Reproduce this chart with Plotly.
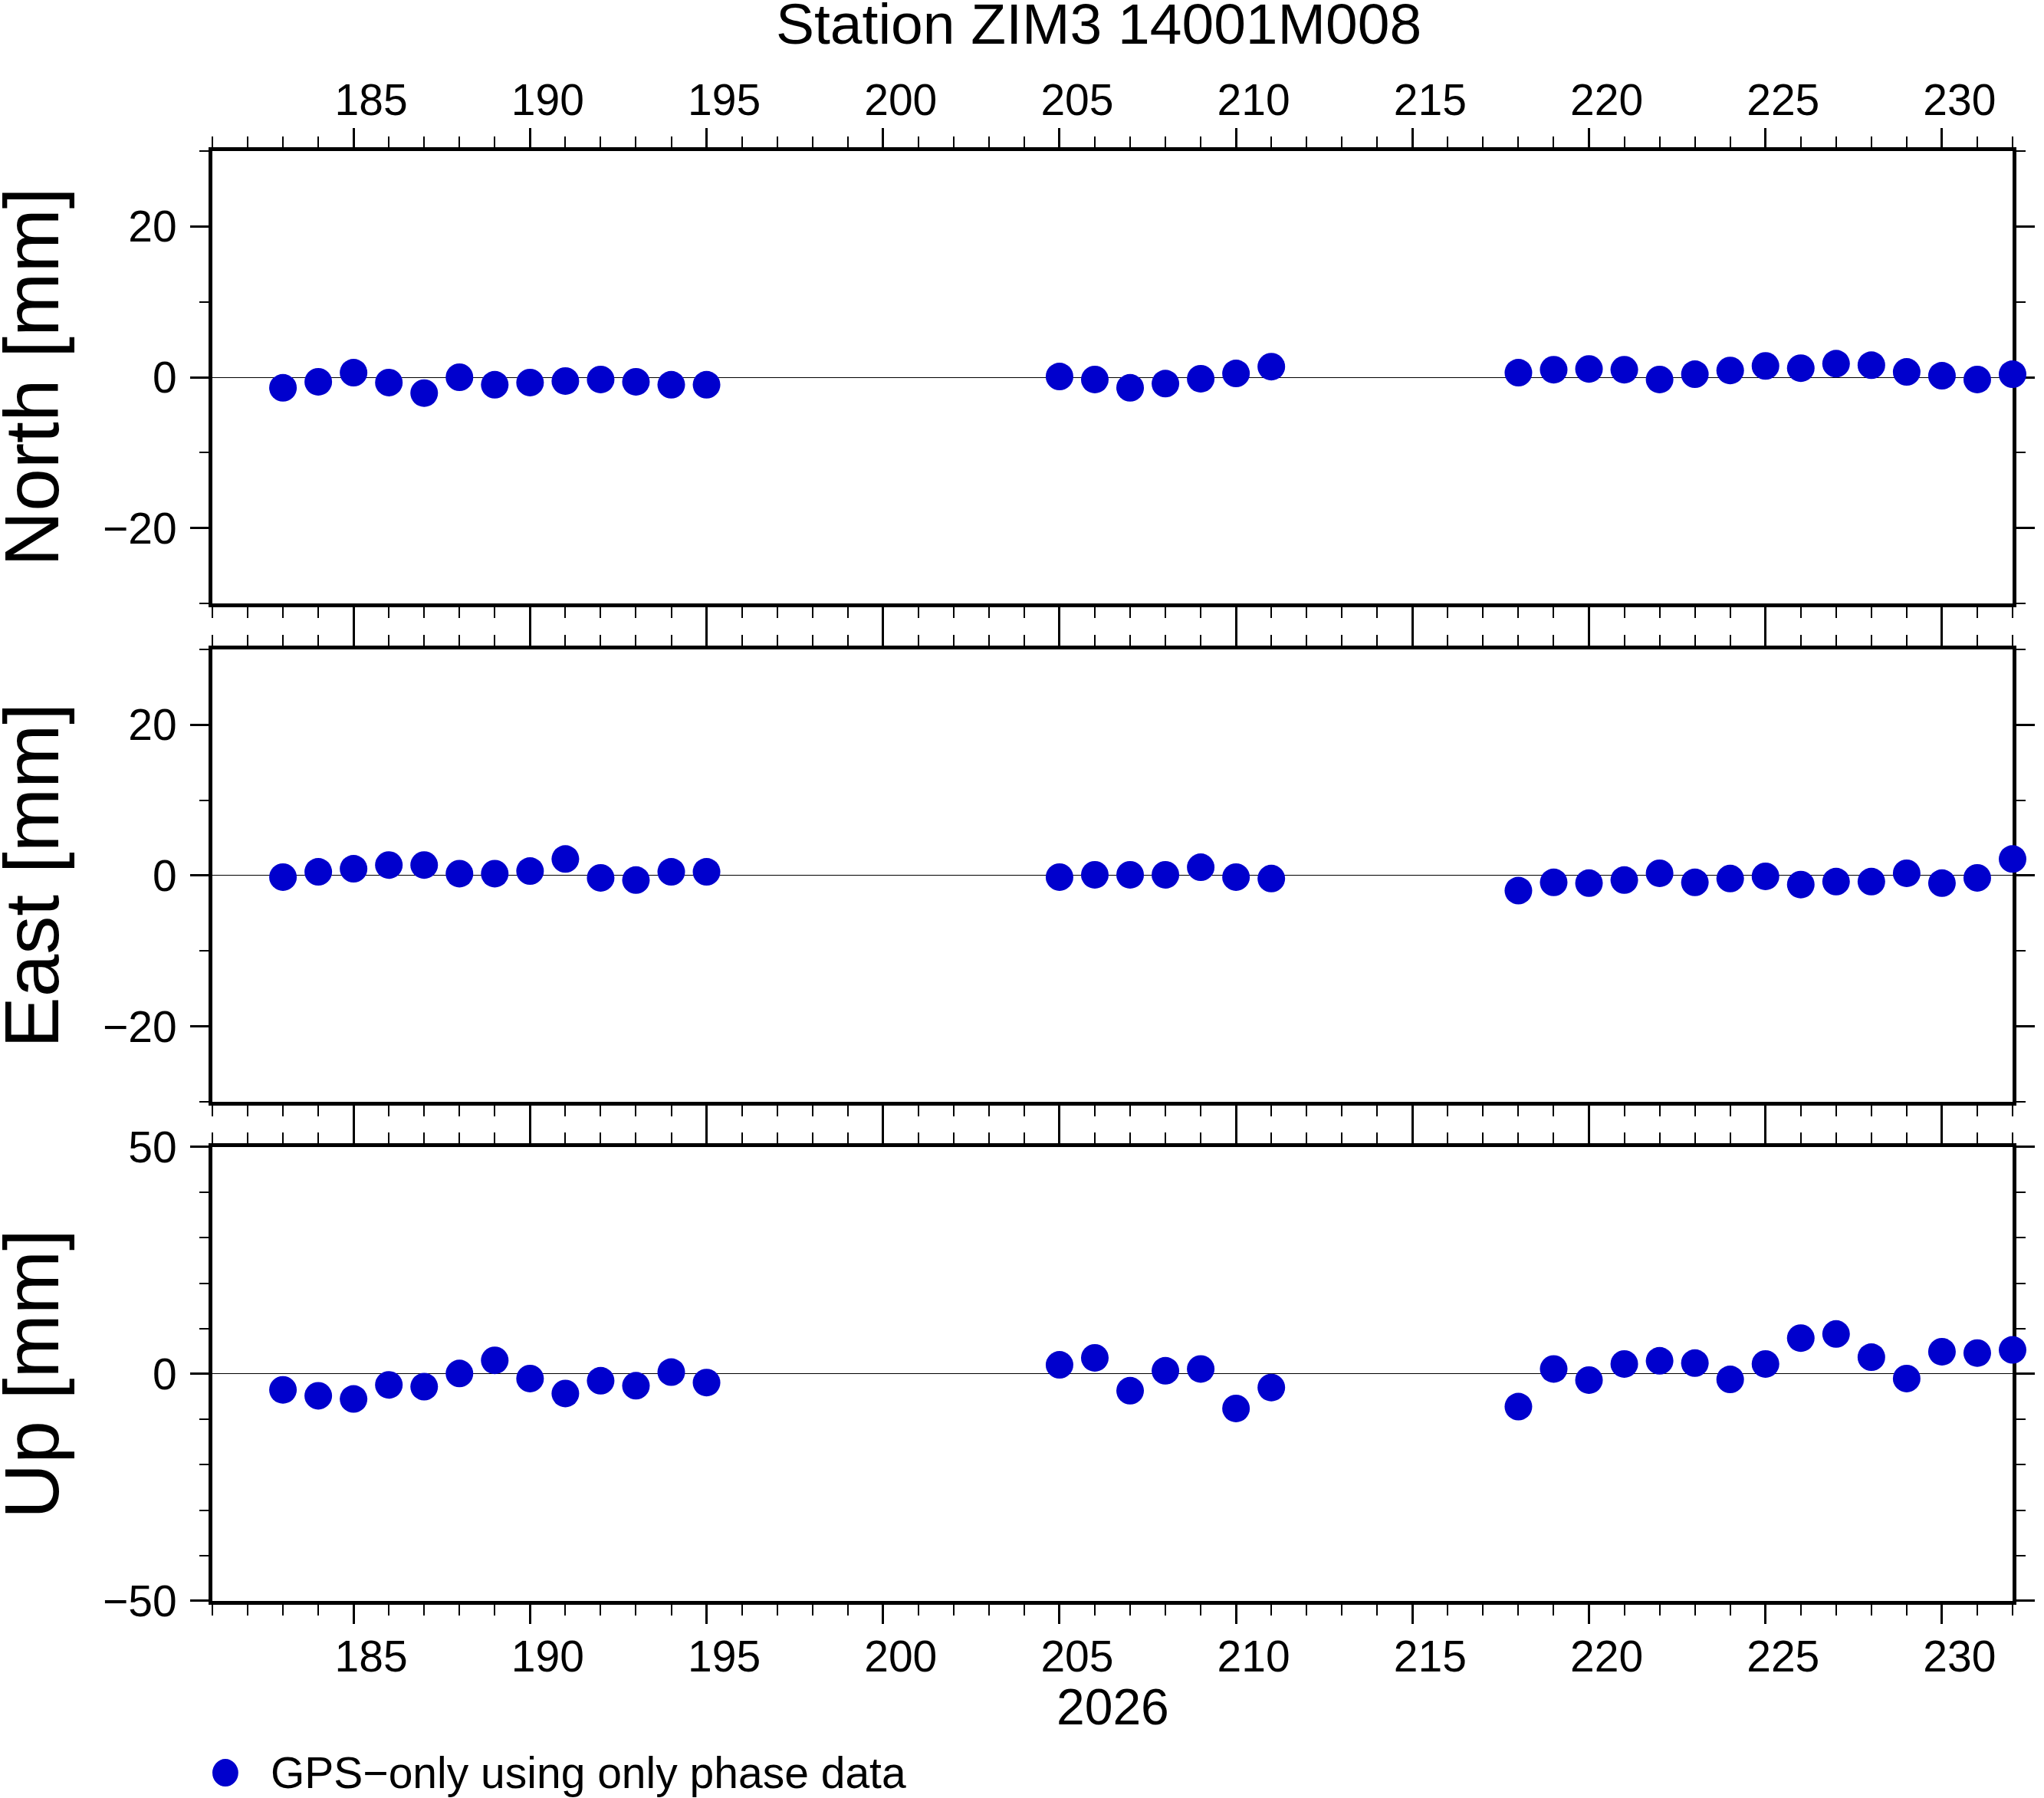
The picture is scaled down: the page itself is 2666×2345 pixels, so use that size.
import plotly.graph_objects as go

# Day of year 2026, three observation blocks
days = [183, 184, 185, 186, 187, 188, 189, 190, 191, 192, 193, 194, 195,
        205, 206, 207, 208, 209, 210, 211,
        218, 219, 220, 221, 222, 223, 224, 225, 226, 227, 228, 229, 230, 231, 232]

# Residuals in mm
north = [-1.4, -0.6, 0.6, -0.7, -2.1, 0.0, -1.0, -0.7, -0.5, -0.3, -0.6, -1.0, -1.0,
         0.1, -0.3, -1.4, -0.85, -0.2, 0.5, 1.4,
         0.6, 1.0, 1.1, 1.0, -0.3, 0.4, 0.9, 1.5, 1.2, 1.8, 1.6, 0.7, 0.2, -0.3, 0.4]
east = [-0.2, 0.5, 0.9, 1.4, 1.4, 0.25, 0.25, 0.6, 2.2, -0.3, -0.6, 0.5, 0.5,
        -0.2, 0.1, 0.1, 0.1, 1.1, -0.2, -0.4,
        -2.0, -0.9, -1.0, -0.6, 0.3, -0.9, -0.4, -0.1, -1.2, -0.8, -0.8, 0.3, -1.0, -0.3, 2.2]
up = [-3.5, -4.8, -5.5, -2.4, -2.8, 0.1, 3.0, -1.0, -4.3, -1.5, -2.6, 0.4, -1.9,
      2.0, 3.55, -3.7, 0.7, 1.1, -7.6, -3.0,
      -7.2, 1.1, -1.35, 2.2, 2.9, 2.4, -1.2, 2.2, 7.9, 8.8, 3.7, -1.0, 4.9, 4.6, 5.3]

panels = [("North [mm]", north, 30, 20), ("East [mm]", east, 30, 20), ("Up [mm]", up, 50, 50)]
domains = [[0.688, 1.0], [0.3443, 0.6563], [0.0, 0.3131]]

dot_color = "#0000cd"
font_name = "Liberation Sans"

fig = go.Figure()
for i, (label, values, lim, step) in enumerate(panels):
    n = "" if i == 0 else str(i + 1)
    fig.add_trace(go.Scatter(
        x=days, y=values, mode="markers",
        marker=dict(size=36, color=dot_color),
        xaxis="x" + n, yaxis="y" + n,
        cliponaxis=False, showlegend=False,
        name="GPS−only using only phase data"
    ))

    # x axis: labels on top for the first panel, at the bottom for the last one
    fig.update_layout(**{
        "xaxis" + n: dict(
            range=[181, 232], domain=[0, 1], anchor="y" + n,
            side="top" if i == 0 else "bottom",
            showticklabels=(i != 1),
            tick0=0, dtick=5, ticks="outside", ticklen=25, tickwidth=3, tickcolor="black",
            minor=dict(dtick=1, ticks="outside", ticklen=14, tickwidth=2, tickcolor="black"),
            showline=True, linewidth=5, linecolor="black", mirror="ticks",
            showgrid=False, zeroline=False, layer="below traces",
            tickfont=dict(size=57, color="black", family=font_name),
            ticklabelstandoff=-6, ticklabelshift=23,
        ),
        "yaxis" + n: dict(
            range=[-lim, lim], domain=domains[i], anchor="x" + n,
            tick0=0, dtick=step, ticks="outside", ticklen=24, tickwidth=3, tickcolor="black",
            minor=dict(dtick=10, ticks="outside", ticklen=12, tickwidth=2, tickcolor="black"),
            showline=True, linewidth=5, linecolor="black", mirror="ticks",
            showgrid=False, zeroline=True, zerolinecolor="black", zerolinewidth=1.2,
            layer="below traces",
            tickfont=dict(size=57, color="black", family=font_name),
            ticklabelstandoff=6,
        ),
    })
    fig.add_annotation(
        text=label, xref="paper", yref="paper",
        x=-0.1005, y=sum(domains[i]) / 2, xanchor="center", yanchor="middle",
        textangle=-90, showarrow=False,
        font=dict(size=100, color="black", family=font_name)
    )

# Title, year label and legend key
fig.add_annotation(text="Station ZIM3 14001M008", xref="paper", yref="paper",
                   x=0.4925, y=1.0878, xanchor="center", yanchor="middle", showarrow=False,
                   font=dict(size=75, color="black", family=font_name))
fig.add_annotation(text="2026", xref="paper", yref="paper",
                   x=0.5002, y=-0.0730, xanchor="center", yanchor="middle", showarrow=False,
                   font=dict(size=66, color="black", family=font_name))
fig.add_shape(type="circle", xref="paper", yref="paper",
              x0=0.0072 - 0.0072, x1=0.0072 + 0.0072, y0=-0.1185 - 0.0095, y1=-0.1185 + 0.0095,
              fillcolor=dot_color, line=dict(width=0))
fig.add_annotation(text="GPS−only using only phase data", xref="paper", yref="paper",
                   x=0.0317, y=-0.1185, xanchor="left", yanchor="middle", showarrow=False,
                   font=dict(size=57, color="black", family=font_name))

fig.update_layout(
    width=2666, height=2345,
    margin=dict(l=277, r=26, t=197, b=257),
    plot_bgcolor="white", paper_bgcolor="white",
    showlegend=False,
)

# drop the default page margin so the figure sits at the window's corner
fig.write_html("out.html", config={"displayModeBar": False},
               post_script="document.body.style.margin='0';document.body.style.overflow='hidden';")
